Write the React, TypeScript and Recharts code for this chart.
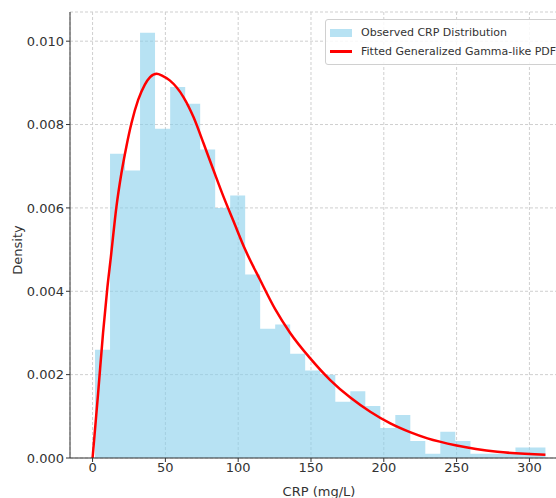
import {
  Area,
  CartesianGrid,
  ComposedChart,
  Label,
  Legend,
  Line,
  XAxis,
  YAxis,
} from "recharts";

// histogram: 30 bins, left edges + final right edge
const binEdges = [
  1.7, 12.0, 22.3, 32.6, 42.9, 53.3, 63.6, 73.9, 84.2, 94.5, 104.8, 115.1,
  125.4, 135.7, 146.0, 156.4, 166.7, 177.0, 187.3, 197.6, 207.9, 218.2, 228.5,
  238.8, 249.1, 259.5, 269.8, 280.1, 290.4, 300.7, 311.0,
];
const observedDensity = [
  0.0026, 0.0073, 0.0069, 0.0102, 0.0079, 0.0089, 0.0085, 0.0074, 0.006,
  0.0063, 0.0044, 0.0031, 0.0032, 0.0025, 0.0021, 0.002, 0.00135, 0.0016,
  0.00125, 0.00072, 0.00103, 0.00041, 0.0001, 0.00063, 0.00041, 0.0001, 0.0001,
  0.0001, 0.00025, 0.00025,
];

// fitted curve
const curveX = [
  0, 3.8, 7.2, 10.2, 12.5, 16.4, 19.8, 23.2, 26.7, 31.3, 35.9, 39.5, 44, 48,
  53, 62.4, 69.3, 76.2, 83, 89.9, 96.8, 104.8, 115.1, 125.4, 135.7, 149.5,
  163.2, 177, 190.7, 204.5, 218, 230, 250, 278, 311,
];
const curvePdf = [
  0, 0.00155, 0.003, 0.0041, 0.0048, 0.00603, 0.00683, 0.00747, 0.00803,
  0.00859, 0.00896, 0.00914, 0.00922, 0.00917, 0.00906, 0.00866, 0.00818,
  0.00755, 0.00691, 0.00627, 0.00568, 0.005, 0.00427, 0.00357, 0.003, 0.00239,
  0.00187, 0.00145, 0.00111, 0.00083, 0.00062, 0.00047, 0.0003, 0.00015,
  0.00008,
];

const xTicks = [0, 50, 100, 150, 200, 250, 300];
const yTicks = [0, 0.002, 0.004, 0.006, 0.008, 0.01];

const histData = binEdges.map((x, i) => ({
  x,
  observed: observedDensity[Math.min(i, observedDensity.length - 1)],
}));
const curveData = curveX.map((x, i) => ({ x, fitted: curvePdf[i] }));

const FONT = '"DejaVu Sans", sans-serif';
const INK = "#333";

function LegendBox() {
  const row = { display: "flex", alignItems: "center", height: 19 };
  return (
    <div
      style={{
        border: "1px solid #d0d0d0",
        borderRadius: 3,
        background: "rgba(255,255,255,0.85)",
        padding: "3px 8px 3px 4px",
        fontFamily: FONT,
        fontSize: 11,
        color: INK,
        whiteSpace: "nowrap",
      }}
    >
      <div style={row}>
        <span
          style={{
            display: "inline-block",
            width: 22,
            height: 8,
            background: "#87CEEB",
            opacity: 0.6,
            marginRight: 9,
          }}
        />
        Observed CRP Distribution
      </div>
      <div style={row}>
        <span
          style={{
            display: "inline-block",
            width: 22,
            height: 2.5,
            background: "#ff0000",
            marginRight: 9,
          }}
        />
        Fitted Generalized Gamma-like PDF
      </div>
    </div>
  );
}

export default function App() {
  return (
    <div
      style={{
        position: "absolute",
        left: 0,
        top: 0,
        width: 556,
        height: 498,
        overflow: "hidden",
        background: "#fff",
        fontFamily: FONT,
      }}
    >
      <ComposedChart
        width={580}
        height={498}
        margin={{ top: 12, right: 12, bottom: 10, left: 0 }}
      >
        <CartesianGrid stroke="#cfcfcf" strokeDasharray="3 2" />
        <XAxis
          dataKey="x"
          type="number"
          domain={[-15.5, 326.5]}
          ticks={xTicks}
          allowDataOverflow
          height={30}
          tickSize={4}
          tickMargin={1}
          tick={{ fill: INK, fontSize: 13, fontFamily: FONT }}
          axisLine={{ stroke: INK }}
          tickLine={{ stroke: INK }}
        >
          <Label
            value="CRP (mg/L)"
            position="insideBottom"
            offset={-8}
            style={{ fill: INK, fontSize: 13, fontFamily: FONT }}
          />
        </XAxis>
        <YAxis
          type="number"
          domain={[0, 0.0107]}
          ticks={yTicks}
          allowDataOverflow
          width={70}
          tickSize={4}
          tickMargin={2}
          tickFormatter={(v: number) => v.toFixed(3)}
          tick={{ fill: INK, fontSize: 13, fontFamily: FONT }}
          axisLine={{ stroke: INK }}
          tickLine={{ stroke: INK }}
        >
          <Label
            content={({ viewBox }: any) => {
              const cy = viewBox.y + viewBox.height / 2 + 15;
              return (
                <text
                  x={17}
                  y={cy}
                  transform={`rotate(-90 17 ${cy})`}
                  textAnchor="middle"
                  dominantBaseline="central"
                  fill={INK}
                  fontSize={13}
                  fontFamily={FONT}
                >
                  Density
                </text>
              );
            }}
          />
        </YAxis>
        <Area
          data={histData}
          dataKey="observed"
          type="stepAfter"
          fill="#87CEEB"
          fillOpacity={0.6}
          stroke="none"
          isAnimationActive={false}
        />
        <Line
          data={curveData}
          dataKey="fitted"
          type="monotone"
          stroke="#ff0000"
          strokeWidth={2.5}
          dot={false}
          isAnimationActive={false}
        />
        <Legend
          layout="horizontal"
          verticalAlign="middle"
          align="center"
          wrapperStyle={{ top: 19, left: 325, width: "auto", right: "auto", bottom: "auto" }}
          content={() => <LegendBox />}
        />
      </ComposedChart>
    </div>
  );
}
